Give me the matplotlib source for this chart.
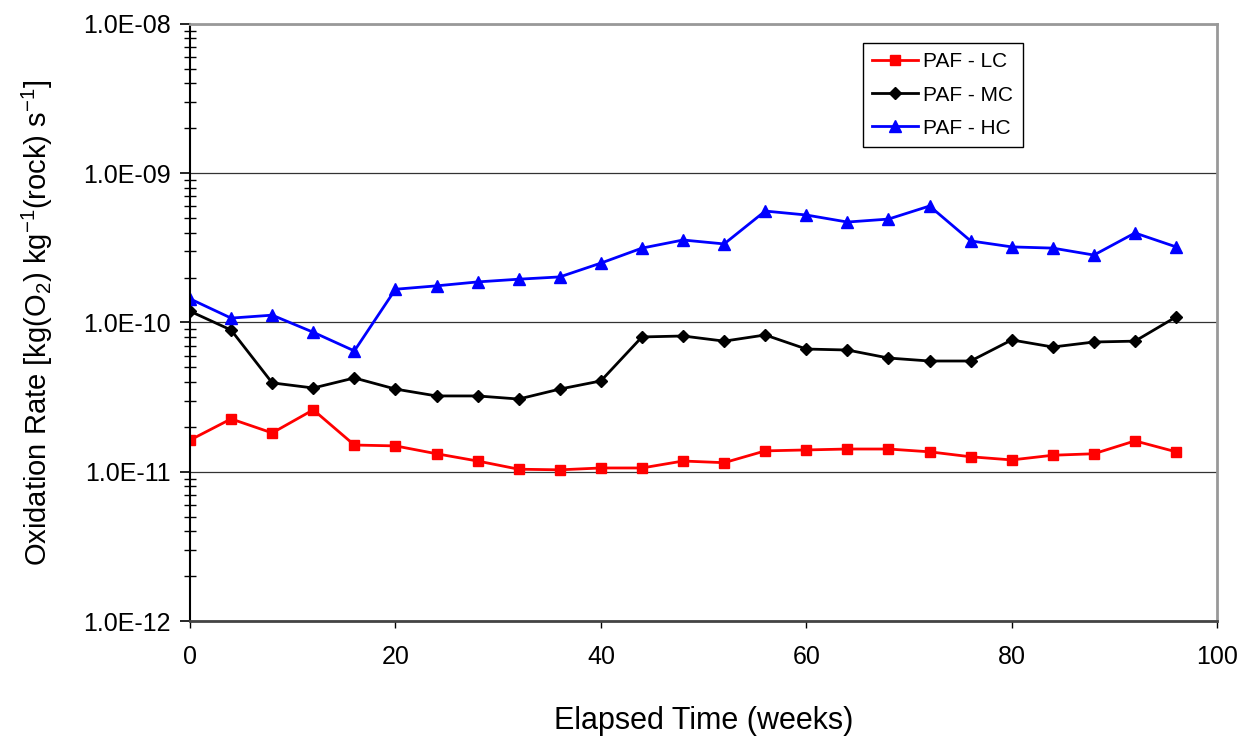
import numpy as np
import matplotlib
matplotlib.use('Agg')
import matplotlib.pyplot as plt
from matplotlib.ticker import FixedLocator, LogLocator, NullFormatter

plt.rcParams['font.family'] = ['Liberation Sans', 'DejaVu Sans']
plt.rcParams['mathtext.default'] = 'regular'

weeks = np.arange(0, 97, 4)

paf_lc = [1.63e-11, 2.26e-11, 1.82e-11, 2.60e-11, 1.51e-11, 1.49e-11, 1.32e-11,
          1.18e-11, 1.04e-11, 1.03e-11, 1.06e-11, 1.06e-11, 1.18e-11, 1.15e-11,
          1.38e-11, 1.40e-11, 1.42e-11, 1.42e-11, 1.36e-11, 1.26e-11, 1.20e-11,
          1.29e-11, 1.32e-11, 1.61e-11, 1.36e-11]
paf_mc = [1.19e-10, 8.9e-11, 3.94e-11, 3.64e-11, 4.25e-11, 3.58e-11, 3.22e-11,
          3.22e-11, 3.07e-11, 3.58e-11, 4.06e-11, 8.0e-11, 8.12e-11, 7.5e-11,
          8.25e-11, 6.64e-11, 6.54e-11, 5.78e-11, 5.52e-11, 5.52e-11, 7.64e-11,
          6.85e-11, 7.4e-11, 7.5e-11, 1.09e-10]
paf_hc = [1.44e-10, 1.07e-10, 1.12e-10, 8.6e-11, 6.45e-11, 1.67e-10, 1.76e-10,
          1.87e-10, 1.95e-10, 2.02e-10, 2.5e-10, 3.15e-10, 3.57e-10, 3.36e-10,
          5.58e-10, 5.25e-10, 4.71e-10, 4.93e-10, 6.03e-10, 3.52e-10, 3.21e-10,
          3.15e-10, 2.83e-10, 3.98e-10, 3.21e-10]

y_ticks = [1e-12, 1e-11, 1e-10, 1e-9, 1e-8]
y_labels = ['1.0E-12', '1.0E-11', '1.0E-10', '1.0E-09', '1.0E-08']
x_ticks = [0, 20, 40, 60, 80, 100]

fig = plt.figure(figsize=(12.42, 7.40), dpi=100)
ax = fig.add_axes([0.153, 0.1608, 0.827, 0.8068])

ax.plot(weeks, paf_lc, color='#ff0000', marker='s', markersize=7, lw=2, label='PAF - LC')
ax.plot(weeks, paf_mc, color='black', marker='D', markersize=6, lw=2, label='PAF - MC')
ax.plot(weeks, paf_hc, color='#0000ff', marker='^', markersize=8, lw=2, label='PAF - HC')

ax.set_yscale('log')
ax.set_ylim(1e-12, 1e-8)
ax.set_xlim(0, 100)

ax.yaxis.set_major_locator(FixedLocator(y_ticks))
ax.set_yticklabels(y_labels)
ax.yaxis.set_minor_locator(LogLocator(base=10, subs=np.arange(2, 10)))
ax.yaxis.set_minor_formatter(NullFormatter())
ax.set_xticks(x_ticks)

ax.tick_params(axis='y', which='major', direction='out', length=7, width=1.2, labelsize=18, pad=7)
ax.tick_params(axis='y', which='minor', direction='inout', length=8, width=1.0)
ax.tick_params(axis='x', which='major', direction='out', length=5, width=1.0, labelsize=18, pad=12)

ax.grid(axis='y', which='major', color='#333333', lw=0.9)
ax.set_axisbelow(True)

ax.spines['left'].set_color('black')
ax.spines['left'].set_linewidth(1.5)
ax.spines['bottom'].set_color('#444444')
ax.spines['bottom'].set_linewidth(2)
ax.spines['top'].set_color('#999999')
ax.spines['top'].set_linewidth(2)
ax.spines['right'].set_color('#999999')
ax.spines['right'].set_linewidth(2)

ax.set_xlabel('Elapsed Time (weeks)', fontsize=22, labelpad=27)
ax.set_ylabel('Oxidation Rate [kg(O$_2$) kg$^{-1}$(rock) s$^{-1}$]', fontsize=21, labelpad=20)

leg = ax.legend(loc='upper left', bbox_to_anchor=(0.655, 0.968), fontsize=15, frameon=True,
                fancybox=False, edgecolor='black', framealpha=1, handlelength=2.2,
                borderpad=0.45, labelspacing=0.68, handletextpad=0.25, borderaxespad=0)
leg.get_frame().set_linewidth(1.0)

fig.savefig('out.png', dpi=100)
